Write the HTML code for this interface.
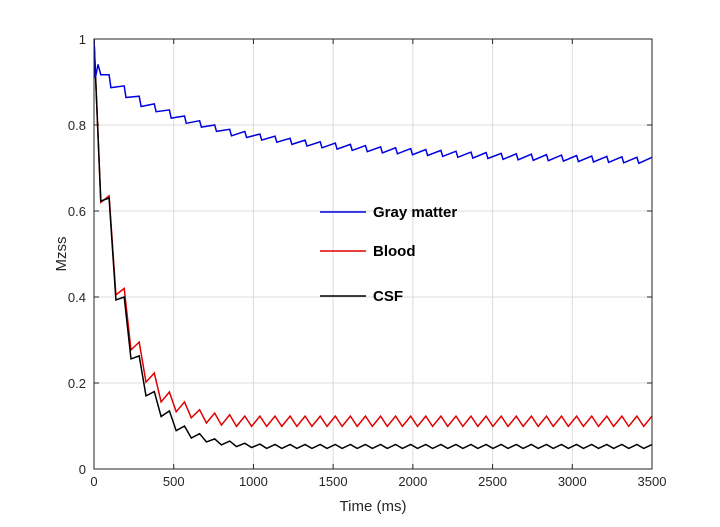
<!DOCTYPE html>
<html><head><meta charset="utf-8"><style>
body{margin:0;background:#fff;font-family:"Liberation Sans",Arial,sans-serif}
svg{display:block}
</style></head><body>
<svg id="chart" width="720" height="527">
<rect width="720" height="527" fill="#fff"/>
<defs><clipPath id="clip"><rect x="94" y="39" width="558" height="430"/></clipPath></defs>
<g id="grid"></g>
<g id="ticks"></g>
<g id="series" clip-path="url(#clip)"></g>
<rect x="94" y="39" width="558" height="430" fill="none" stroke="#262626" stroke-width="1"/>
<text x="373" y="511" font-size="15" text-anchor="middle" fill="#262626">Time (ms)</text>
<text x="0" y="0" font-size="15" text-anchor="middle" fill="#262626" transform="translate(66,254) rotate(-90)">Mzss</text>
<g>
<g><line x1="320" y1="212" x2="366" y2="212" stroke="#0000e0" stroke-width="1.5"/><text x="373" y="217" font-size="15" font-weight="bold">Gray matter</text></g>
<g><line x1="320" y1="251" x2="366" y2="251" stroke="#e00000" stroke-width="1.5"/><text x="373" y="256" font-size="15" font-weight="bold">Blood</text></g>
<g><line x1="320" y1="296" x2="366" y2="296" stroke="#000" stroke-width="1.5"/><text x="373" y="301" font-size="15" font-weight="bold">CSF</text></g>
</g>
</svg>
<script>
const xTicks=[0,500,1000,1500,2000,2500,3000,3500];
const yTicks=[0,0.2,0.4,0.6,0.8,1];
const yTickLabels=["0","0.2","0.4","0.6","0.8","1"];
const period=[94.6];
const grayPeaks=[0.917,0.891,0.867,0.849,0.835,0.821,0.81,0.8,0.79,0.785,0.779,0.774,0.769,0.765,0.761,0.758,0.755,0.752,0.749,0.747,0.745,0.743,0.741,0.739,0.737,0.736,0.734,0.733,0.732,0.731,0.73,0.729,0.728,0.727,0.726,0.725,0.725];
const grayTroughs=[0.917,0.887,0.864,0.843,0.831,0.816,0.804,0.795,0.785,0.775,0.771,0.765,0.76,0.755,0.751,0.747,0.744,0.741,0.738,0.735,0.733,0.731,0.729,0.727,0.725,0.723,0.722,0.72,0.719,0.718,0.717,0.716,0.715,0.714,0.713,0.712,0.711];
const grayStartT=[0,8,25];
const grayStartV=[1,0.909,0.941];
const bloodPeaks=[0.635,0.42,0.295,0.223,0.179,0.156,0.138,0.13,0.126,0.123,0.123,0.123,0.123,0.123,0.123,0.123,0.123,0.123,0.123,0.123,0.123,0.123,0.123,0.123,0.123,0.123,0.123,0.123,0.123,0.123,0.123,0.123,0.123,0.123,0.123,0.123,0.123];
const bloodTroughs=[0.62,0.405,0.277,0.202,0.156,0.133,0.119,0.107,0.102,0.099,0.099,0.099,0.099,0.099,0.099,0.099,0.099,0.099,0.099,0.099,0.099,0.099,0.099,0.099,0.099,0.099,0.099,0.099,0.099,0.099,0.099,0.099,0.099,0.099,0.099,0.099,0.099];
const csfPeaks=[0.63,0.40,0.263,0.18,0.135,0.10,0.082,0.07,0.065,0.06,0.058,0.057,0.057,0.057,0.057,0.057,0.057,0.057,0.057,0.057,0.057,0.057,0.057,0.057,0.057,0.057,0.057,0.057,0.057,0.057,0.057,0.057,0.057,0.057,0.057,0.057,0.057];
const csfTroughs=[0.623,0.393,0.256,0.17,0.122,0.089,0.072,0.063,0.056,0.052,0.05,0.048,0.048,0.048,0.048,0.048,0.048,0.048,0.048,0.048,0.048,0.048,0.048,0.048,0.048,0.048,0.048,0.048,0.048,0.048,0.048,0.048,0.048,0.048,0.048,0.048,0.048];

const X0=94,X1=652,Y0=469,Y1=39;
const xs=t=>X0+(t/3500)*(X1-X0);
const ys=v=>Y0-(v/1)*(Y0-Y1);
const NS="http://www.w3.org/2000/svg";
function mk(tag,attrs,parent){const e=document.createElementNS(NS,tag);for(const k in attrs)e.setAttribute(k,attrs[k]);parent.appendChild(e);return e;}
const grid=document.getElementById('grid'),ticks=document.getElementById('ticks'),series=document.getElementById('series');
xTicks.forEach(t=>{const x=xs(t);
 const g=mk('line',{x1:x,x2:x,y1:Y1,y2:Y0,stroke:'#dcdcdc','stroke-width':1},grid);
 
 
 mk('line',{x1:x,x2:x,y1:Y0,y2:Y0-5,stroke:'#262626'},ticks);
 mk('line',{x1:x,x2:x,y1:Y1,y2:Y1+5,stroke:'#262626'},ticks);
 const l=mk('text',{x:x,y:Y0+17,'font-size':13,'text-anchor':'middle',fill:'#262626'},ticks);l.textContent=String(t);
 
 
});
yTicks.forEach((v,i)=>{const y=ys(v);
 const g=mk('line',{x1:X0,x2:X1,y1:y,y2:y,stroke:'#dcdcdc','stroke-width':1},grid);
 
 
 mk('line',{x1:X0,x2:X0+5,y1:y,y2:y,stroke:'#262626'},ticks);
 mk('line',{x1:X1,x2:X1-5,y1:y,y2:y,stroke:'#262626'},ticks);
 const l=mk('text',{x:X0-8,y:y+5,'font-size':13,'text-anchor':'end',fill:'#262626'},ticks);l.textContent=yTickLabels[i];
 
 
});
function build(peaks,troughs,startT,startV,frac){
 const T=period[0];const pts=[];
 startT.forEach((t,i)=>pts.push([t,startV[i]]));
 for(let k=0;k<troughs.length;k++){
  if(k===0&&startT.length>1){pts.push([0.45*T,troughs[0]]);pts.push([T*0.98,troughs[0]]);}
  else pts.push([k*T+frac*T,troughs[k]]);
  pts.push([(k+1)*T,peaks[k]]);
 }
 return pts.map((p,i)=>(i?'L':'M')+xs(p[0]).toFixed(1)+','+ys(p[1]).toFixed(1)).join(' ');
}
const p1=mk('path',{d:build(bloodPeaks,bloodTroughs,[0],[1],0.45),fill:'none',stroke:'#e00000','stroke-width':1.5},series);


const p2=mk('path',{d:build(csfPeaks,csfTroughs,[0],[1],0.45),fill:'none',stroke:'#000','stroke-width':1.5},series);


const p3=mk('path',{d:build(grayPeaks,grayTroughs,grayStartT,grayStartV,0.12),fill:'none',stroke:'#0000e0','stroke-width':1.5},series);


</script>
</body></html>
